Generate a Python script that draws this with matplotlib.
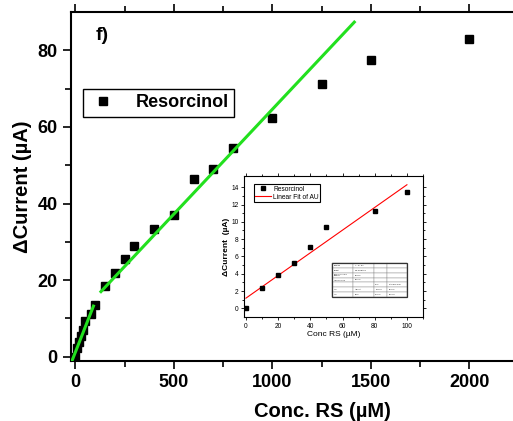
import numpy as np
import matplotlib
matplotlib.use("Agg")
import matplotlib.pyplot as plt
from matplotlib.patches import Rectangle

plt.rcParams['font.family'] = ['Liberation Sans', 'DejaVu Sans']

# ── data ──────────────────────────────────────────────────────────────────
conc = [0, 10, 20, 30, 40, 50, 80, 100, 150, 200, 250, 300, 400, 500,
        600, 700, 800, 1000, 1250, 1500, 2000]
current = [0, 2.4, 3.8, 5.3, 7.1, 9.4, 11.3, 13.4, 18.5, 21.8, 25.4, 28.9,
           33.4, 37.0, 46.3, 49.0, 54.6, 62.3, 71.2, 77.5, 82.9]

# linear fits (intercept, slope, x-range)
fit_low = (1.17838, 0.13107, [-17, 92])
fit_high = (9.9, 0.0547, [130, 1416])

inset_conc = [0, 10, 20, 30, 40, 50, 80, 100]
inset_current = [0, 2.4, 3.8, 5.3, 7.1, 9.4, 11.3, 13.4]
inset_fit = (1.17838, 0.13107, [0, 100])

table_rows = [
    ["Equation", "y = a + b*x", "", ""],
    ["Weight", "No Weighting", "", ""],
    ["Residual Sum of\nSquares", "5.83795", "", ""],
    ["Adj. R-Square", "0.95695", "", ""],
    ["", "", "Value", "Standard Error"],
    ["AU", "Intercept", "1.17838", "0.50857"],
    ["AU", "Slope", "0.13107", "0.01084"],
]

fig = plt.figure(figsize=(5.13, 4.21), dpi=100)
# right side of the frame is cut off by the picture edge, as in the original
ax = fig.add_axes([0.1384, 0.1425, 0.9816, 0.829])

ax.plot(conc, current, "s", color="black", markersize=5.8, label="Resorcinol",
        zorder=3)
for a, b, xr in (fit_low, fit_high):
    xx = np.array(xr)
    ax.plot(xx, a + b * xx, color="#22e01e", linewidth=2.2, zorder=4)

ax.set_xlim(-22, 2534)
ax.set_ylim(-1.1, 90)
ax.set_xticks([0, 500, 1000, 1500, 2000])
ax.set_xticks(np.arange(250, 2500, 500), minor=True)
ax.set_yticks([0, 20, 40, 60, 80])
ax.set_yticks([10, 30, 50, 70], minor=True)
ax.tick_params(which="both", direction="out", top=True, right=False,
               width=1.2, labelsize=13)
ax.tick_params(which="major", length=6)
ax.tick_params(which="minor", length=4)
for lab in ax.get_xticklabels() + ax.get_yticklabels():
    lab.set_fontweight("bold")
for s in ax.spines.values():
    s.set_linewidth(1.5)
ax.spines["right"].set_visible(False)

ax.set_xlabel("Conc. RS (\u00b5M)", fontsize=14.5, fontweight="bold", labelpad=8)
ax.set_ylabel("\u0394Current (\u00b5A)", fontsize=14.5, fontweight="bold",
              labelpad=4)

fig.text(0.2, 0.915, "f)", fontsize=14, fontweight="bold",
         ha="center", va="center")

leg = ax.legend(loc="upper left", bbox_to_anchor=(0.1618, 0.7886),
                bbox_transform=fig.transFigure, fancybox=False,
                edgecolor="black", framealpha=1,
                prop={"weight": "bold", "size": 13}, handletextpad=1.0,
                borderpad=0.3, handlelength=1.6, borderaxespad=0)
leg.get_frame().set_linewidth(1.0)

# ── inset ────────────────────────────────────────────────────────────────
ins = fig.add_axes([0.4756, 0.247, 0.349, 0.335])
ins.plot(inset_conc, inset_current, "s", color="black", markersize=2.6,
         label="Resorcinol", zorder=3)
a, b, xr = inset_fit
xx = np.array(xr)
ins.plot(xx, a + b * xx, color="red", linewidth=0.8, label="Linear Fit of AU")
ins.set_xlim(-1.2, 110)
ins.set_ylim(-1.0, 15.3)
ins.set_xticks(np.arange(0, 101, 20))
ins.set_xticks(np.arange(10, 111, 20), minor=True)
ins.set_yticks(np.arange(0, 15, 2))
ins.set_yticks(np.arange(1, 15, 2), minor=True)
ins.tick_params(which="both", direction="out", top=True, right=True,
                width=0.6, labelsize=4.8, pad=1.5)
ins.tick_params(which="major", length=2.5)
ins.tick_params(which="minor", length=1.5)
for s in ins.spines.values():
    s.set_linewidth(0.8)
ins.set_xlabel("Conc RS (\u00b5M)", fontsize=6, labelpad=1)
ins.set_ylabel("\u0394Current  (\u00b5A)", fontsize=6, fontweight="bold",
               labelpad=1)
ileg = ins.legend(loc="upper left", bbox_to_anchor=(0.055, 0.94), fancybox=False,
                  edgecolor="black", framealpha=1, fontsize=4.8,
                  borderpad=0.2, handlelength=2.4, handletextpad=0.3,
                  labelspacing=0.15, borderaxespad=0)
ileg.get_frame().set_linewidth(0.8)

tbl_box = [0.492, 0.142, 0.419, 0.241]
tbl = ins.table(cellText=table_rows, bbox=tbl_box,
                cellLoc="left", colWidths=[0.28, 0.28, 0.17, 0.27])
tbl.auto_set_font_size(False)
tbl.set_fontsize(1.3)
for cell in tbl.get_celld().values():
    cell.set_linewidth(0.3)
    cell.set_edgecolor("#888888")
ins.add_patch(Rectangle(tbl_box[:2], tbl_box[2], tbl_box[3],
                        transform=ins.transAxes, fill=False,
                        edgecolor="#333333", linewidth=0.9, zorder=6))

fig.savefig("out.png", dpi=100)
